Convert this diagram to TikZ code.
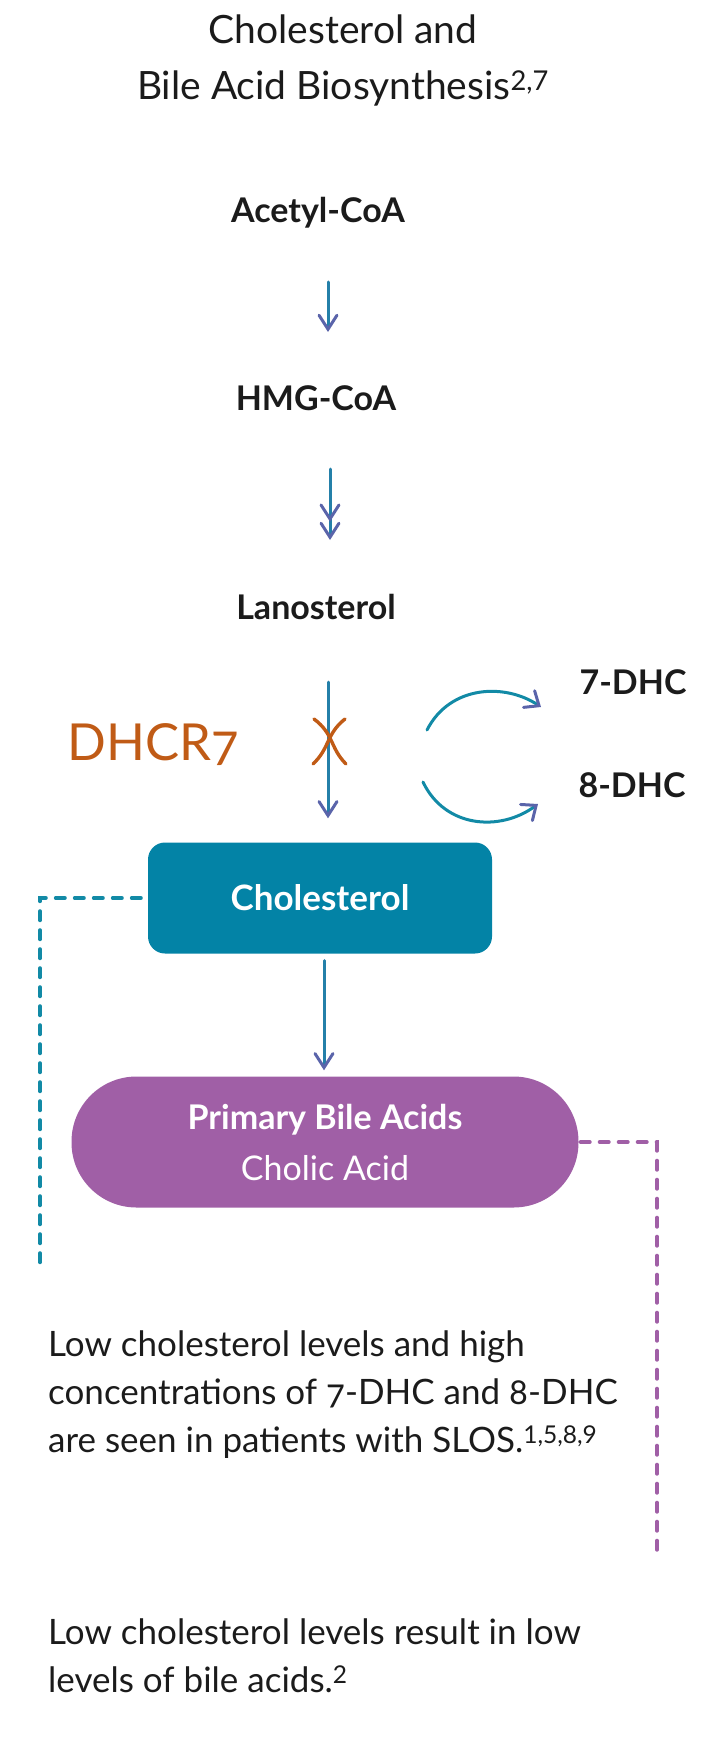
\documentclass[tikz,border=0pt]{standalone}
\usepackage{fontspec}
\setmainfont{Lato}
\newfontfamily\oldnum[Numbers=OldStyle]{Lato}
\usetikzlibrary{arrows.meta}

\definecolor{ink}{HTML}{1B1B1B}
\definecolor{tealbox}{HTML}{0383A6}
\definecolor{tealline}{HTML}{128AA6}
\definecolor{bilebox}{HTML}{A05FA6}
\definecolor{dhcr}{HTML}{C05B16}
\definecolor{shaft}{HTML}{2480A9}
\definecolor{tipc}{HTML}{5A64AA}

\begin{document}
\begin{tikzpicture}[x=1pt, y=-1pt,
    molecule/.style={font=\fontsize{34}{36}\selectfont\bfseries, text=ink, inner sep=0pt},
    flow/.style={draw=shaft, line width=3pt, line cap=round,
      -{Straight Barb[length=14pt, width=18pt, color=tipc, line cap=round]}},
    flowtwo/.style={draw=shaft, line width=3pt, line cap=round,
      -{Straight Barb[length=14pt, width=18pt, color=tipc, line cap=round]
        Straight Barb[length=14pt, width=18pt, color=tipc, line cap=round]}},
    side/.style={draw=tealline, line width=3pt, line cap=round,
      -{Straight Barb[length=12pt, width=20pt, color=tipc, line cap=round]}},
    note/.style={font=\fontsize{35}{48}\selectfont, text=ink, align=left, inner sep=0pt, anchor=north west},
    dashlink/.style={line width=4pt, line cap=round, dash pattern=on 9pt off 10pt}]
  \useasboundingbox (0,0) rectangle (702,1752);

  \node[font=\fontsize{39}{56}\selectfont, text=ink, align=center, inner sep=0pt, anchor=north] (title) at (343,15)
    {Cholesterol and\\Bile Acid Biosynthesis\textsuperscript{2,7}};

  \node[molecule] (acetyl) at (318,213) {Acetyl-CoA};
  \node[molecule] (hmg) at (316,398) {HMG-CoA};
  \node[molecule] (lano) at (316,607) {Lanosterol};
  \node[molecule] (dhc7) at (633,682) {7-DHC};
  \node[molecule] (dhc8) at (632,785) {8-DHC};
  \node[font=\fontsize{51}{51}\selectfont\oldnum, text=dhcr, inner sep=0pt] (enzyme) at (153,745) {DHCR7};

  \node[draw=none, fill=tealbox, rounded corners=17pt, minimum width=344pt, minimum height=111pt,
    font=\fontsize{35}{38}\selectfont\bfseries, text=white] (chol) at (320,898) {Cholesterol};
  \node[draw=none, fill=bilebox, rounded corners=65pt, minimum width=507pt, minimum height=131pt,
    align=center, text=white, font=\fontsize{34}{51}\selectfont] (bile) at (325,1142)
    {\textbf{Primary Bile Acids}\\Cholic Acid};

  \draw[flow, shorten <=69pt, shorten >=66pt] ([xshift=10pt]acetyl.center) -- ([xshift=10pt]acetyl.center |- hmg.center);
  \draw[flowtwo, shorten <=71pt, shorten >=67pt] ([xshift=14pt]hmg.center) -- ([xshift=14pt]hmg.center |- lano.center);
  \draw[flow, shorten <=75pt, shorten >=24pt] ([xshift=12pt]lano.center) -- ([xshift=12pt]lano.center |- chol.north);
  \draw[flow, shorten <=7pt, shorten >=6pt] ([xshift=4pt]chol.south) -- ([xshift=4pt]chol.south |- bile.north);

  % blocked step
  \draw[dhcr, line width=3.4pt, line cap=round] (314,719) .. controls (334,734) and (330,748) .. (346,764);
  \draw[dhcr, line width=3.4pt, line cap=round] (345,719) .. controls (326,734) and (330,748) .. (313,764);

  \coordinate (up) at (427,730);
  \coordinate (upend) at (541,707);
  \coordinate (down) at (423,782);
  \coordinate (downend) at (538,804);
  \draw[side] (up) .. controls (450,685) and (505,683) .. (upend);
  \draw[side] (down) .. controls (445,828) and (500,832) .. (downend);

  \coordinate (cholend) at (40,1272);
  \coordinate (bileend) at (657,1559);
  \draw[dashlink, draw=tealline, shorten <=7pt] (chol.west) -| (cholend);
  \draw[dashlink, draw=bilebox, shorten <=2pt] (bile.east) -| (bileend);

  \node[note] (slos) at (48,1331)
    {Low cholesterol levels and high\\{\oldnum concentrations of 7-DHC and 8-DHC}\\are seen in patients with SLOS.\textsuperscript{1,5,8,9}};
  \node[note] (bilenote) at (48,1619)
    {Low cholesterol levels result in low\\levels of bile acids.\textsuperscript{2}};
\end{tikzpicture}
\end{document}
